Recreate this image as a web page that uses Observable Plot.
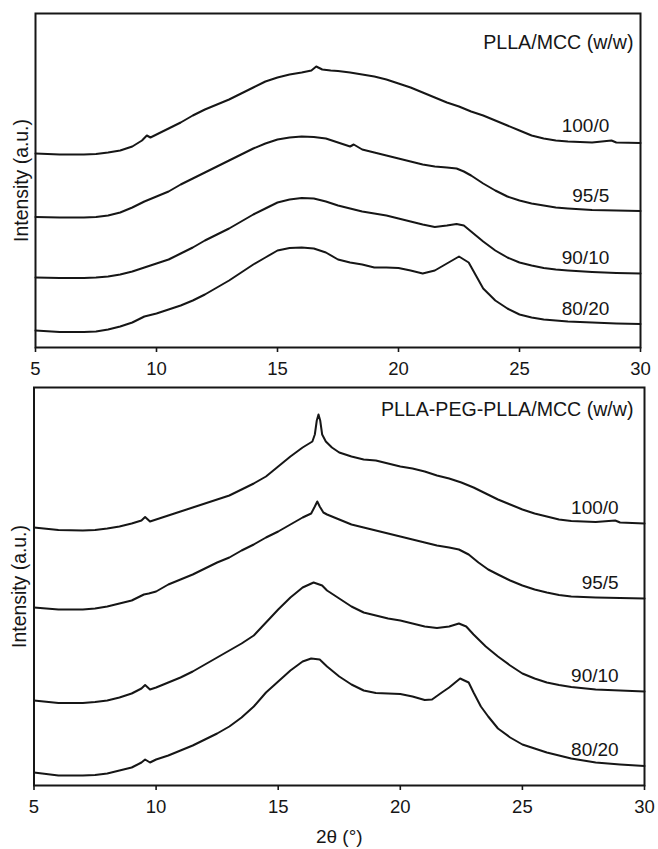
<!DOCTYPE html>
<html>
<head>
<meta charset="utf-8">
<script src="https://cdn.jsdelivr.net/npm/d3@7"></script>
<script src="https://cdn.jsdelivr.net/npm/@observablehq/plot@0.6"></script>
<style>
  html, body { margin: 0; padding: 0; background: #fff; }
  #chart svg { display: block; }
</style>
</head>
<body>
<div id="chart"></div>
<script>
// XRD patterns, 2θ (°) vs. intensity (a.u., curves vertically offset)
const xTicks = [5, 10, 15, 20, 25, 30];
const sampleLabels = ["100/0", "95/5", "90/10", "80/20"];
const topTitle = "PLLA/MCC (w/w)";
const bottomTitle = "PLLA-PEG-PLLA/MCC (w/w)";
const yTitle = "Intensity (a.u.)";
const xTitle = "2θ (°)";

// PLLA/MCC blends
const pllaMcc100 = [[5,194],[6,193],[7,193],[7.5,193.5],[8,195],[8.5,197],[9,201],[9.4,207],[9.6,212],[9.75,210],[10,213],[10.5,219],[11,225],[11.5,232],[12,238],[12.5,243],[13,248],[13.5,254],[14,260],[14.5,266],[15,270],[15.5,273],[16,275],[16.4,277],[16.6,281],[16.85,278],[17.2,277],[17.5,276.5],[18,275],[18.5,273],[19,271],[19.5,268],[20,264],[20.5,260],[21,255],[21.5,250],[22,245],[22.5,241],[23,236],[23.5,232],[24,227],[24.5,222],[25,217],[25.5,212],[26,209],[26.5,207],[27,206],[28,205],[28.8,207],[29,205],[30,204.5]];
const pllaMcc95 = [[5,130.5],[6,130],[7,130],[7.5,130.5],[8,132],[8.5,135],[9,140],[9.5,146],[10,151],[10.5,156],[11,163],[11.5,169],[12,175],[12.5,181],[13,187],[13.5,193],[14,199],[14.5,204],[15,208],[15.5,210],[16,211],[16.5,210.5],[17,209],[17.5,205],[18,201],[18.15,203],[18.5,198],[19,195],[19.5,192],[20,189],[20.5,186],[21,183],[21.5,181],[22,180],[22.4,179],[22.7,176],[23,172],[23.5,164],[24,157],[24.5,151],[25,147],[25.5,144],[26,142],[26.5,140],[27,139],[28,137.5],[29,137],[30,136.5]];
const pllaMcc90 = [[5,70],[6,69.5],[7,69.5],[7.5,70],[8,71],[8.5,73],[9,76],[9.5,80],[10,84],[10.5,88],[11,94],[11.5,100],[12,107],[12.5,113],[13,119],[13.5,126],[14,133],[14.5,139],[15,145],[15.5,148],[16,149.5],[16.5,149],[17,146],[17.5,142],[18,139],[18.5,136],[19,134],[19.5,132],[20,129],[20.5,126],[21,123],[21.5,120.5],[22,122],[22.4,123.5],[22.7,122],[23,116],[23.5,106],[24,97],[24.5,90],[25,85],[25.5,82],[26,79.5],[26.5,78],[27,77],[28,75.5],[29,74.5],[30,74]];
const pllaMcc80 = [[5,17],[6,15.5],[7,15.5],[7.5,16],[8,18],[8.5,21],[9,25],[9.5,31],[10,34],[10.5,38],[11,42],[11.5,47],[12,53],[12.5,60],[13,67],[13.5,75],[14,83],[14.5,90],[15,97],[15.5,99.5],[16,100],[16.5,99],[17,95],[17.5,88],[18,85],[18.5,83],[19,80],[19.5,80],[20,79.5],[20.5,77],[21,74],[21.5,77],[22,84],[22.5,91],[22.9,85],[23.2,72],[23.5,59],[24,47],[24.5,39],[25,33],[25.5,30],[26,28],[27,26],[28,25],[29,24],[30,23.5]];

// PLLA-PEG-PLLA/MCC blends
const pegMcc100 = [[5,258],[6,255.5],[7,255],[7.5,255.5],[8,257],[8.5,259],[9,262],[9.4,265],[9.55,268.5],[9.75,264],[10,266],[10.5,270],[11,274],[11.5,278],[12,282],[12.5,286],[13,290],[13.5,296],[14,302],[14.5,309],[15,319],[15.5,329],[16,338],[16.4,344],[16.5,351],[16.58,365],[16.65,371],[16.72,365],[16.8,351],[16.95,344],[17.2,338],[17.5,333],[18,329],[18.5,326],[19,325],[19.5,322],[20,319],[20.5,317],[21,314],[21.5,310],[22,307],[22.5,303],[23,298],[23.5,292],[24,286],[24.5,281],[25,276],[25.5,272],[26,269],[26.5,266],[27,264.5],[28,263.5],[28.8,265],[29,263],[30,262]];
const pegMcc95 = [[5,178],[6,176],[7,176],[7.5,177],[8,179],[8.5,182],[9,185],[9.5,191],[9.7,192],[10,194],[10.5,201],[11,206],[11.5,211],[12,217],[12.5,223],[13,228],[13.5,235],[14,241],[14.5,248],[15,254],[15.5,261],[16,268],[16.35,272],[16.5,279],[16.6,284],[16.7,279],[16.85,273],[17,271],[17.5,266],[18,261],[18.5,258],[19,255],[19.5,252],[20,249],[20.5,246],[21,243],[21.5,240],[22,238],[22.4,236],[22.8,231],[23.2,223],[23.6,216],[24,211],[24.5,205],[25,200],[25.5,196],[26,193],[26.5,190.5],[27,189],[28,188],[29,187.5],[30,187]];
const pegMcc90 = [[5,85],[6,82.5],[7,82.5],[7.5,83.5],[8,85],[8.5,88],[9,92],[9.4,97],[9.55,100.5],[9.75,96],[10,98],[10.5,103],[11,108],[11.5,114],[12,121],[12.5,128],[13,135],[13.5,142],[14,150],[14.5,163],[15,176],[15.5,188],[16,198],[16.45,203],[16.8,200],[17,195],[17.5,187],[18,179],[18.5,173],[19,170],[19.5,167],[20,165],[20.5,162],[21,159],[21.5,157.5],[22,159],[22.4,162],[22.7,159],[23,151],[23.5,139],[24,129],[24.5,120],[25,112],[25.5,107],[26,103],[26.5,100.5],[27,98.5],[28,96],[29,95],[30,94]];
const pegMcc80 = [[5,13],[6,10],[7,10],[7.5,10.5],[8,12],[8.5,15],[9,18],[9.4,23],[9.55,26],[9.75,23],[10,26],[10.5,30],[11,35],[11.5,40],[12,46],[12.5,52],[13,59],[13.5,68],[14,79],[14.5,93],[15,104],[15.5,115],[16,124],[16.35,127],[16.7,126],[17,119],[17.5,109],[18,101],[18.5,95],[19,92.5],[19.5,92],[20,91.5],[20.5,89],[21,85.5],[21.3,86],[21.7,93],[22,98],[22.45,107],[22.8,103],[23,93],[23.3,79],[23.6,69],[24,57],[24.5,48],[25,41],[25.5,37],[26,33],[26.5,30],[27,27],[28,23],[29,21],[30,19.5]];

const ink = "#161616";
const font = "'Liberation Sans', Arial, Helvetica, sans-serif";

function rowsFor(series) {
  return series.flatMap((pts, i) =>
    pts.map(([theta, intensity]) => ({sample: sampleLabels[i], theta, intensity})));
}

// label sits just above each trace, right-aligned at a given 2θ
function labelRows(series, atTheta) {
  return series.map((pts, i) => {
    const p = pts.reduce((a, b) => Math.abs(b[0] - atTheta) < Math.abs(a[0] - atTheta) ? b : a);
    return {sample: sampleLabels[i], theta: atTheta, intensity: p[1]};
  });
}

function panel({series, title, yMax, height, margins, labelTheta, labelDy, titleDx, titleDy, withXTitle}) {
  const marks = [
    Plot.frame({stroke: ink, strokeWidth: 2}),
    Plot.axisX({ticks: xTicks, tickSize: 5, tickPadding: 9, label: null, fontSize: 18.5, stroke: ink, strokeWidth: 1.6}),
    Plot.line(rowsFor(series), {x: "theta", y: "intensity", z: "sample", stroke: ink, strokeWidth: 2, strokeLinejoin: "round"}),
    Plot.text(labelRows(series, labelTheta), {x: "theta", y: "intensity", text: "sample", textAnchor: "end", lineAnchor: "bottom", dy: labelDy, fontSize: 19, fill: ink}),
    Plot.text([title], {frameAnchor: "top-right", text: d => d, textAnchor: "end", lineAnchor: "bottom", dx: titleDx, dy: titleDy, fontSize: 19.6, fill: ink}),
    Plot.text([yTitle], {frameAnchor: "left", text: d => d, rotate: -90, textAnchor: "middle", lineAnchor: "middle", dx: -14, fontSize: 19.4, fill: ink})
  ];
  if (withXTitle) {
    marks.push(Plot.text([xTitle], {frameAnchor: "bottom", text: d => d, textAnchor: "middle", lineAnchor: "bottom", dy: 57, fontSize: 19, fill: ink}));
  }
  return Plot.plot({
    width: 658,
    height,
    ...margins,
    x: {domain: [5, 30]},
    y: {domain: [0, yMax], axis: null},
    style: {fontFamily: font, color: ink, background: "#fff", overflow: "visible"},
    marks
  });
}

const chart = document.getElementById("chart");
chart.append(panel({
  series: [pllaMcc100, pllaMcc95, pllaMcc90, pllaMcc80],
  title: topTitle, yMax: 334, height: 380,
  margins: {marginTop: 13, marginBottom: 33, marginLeft: 35, marginRight: 18},
  labelTheta: 28.71, labelDy: -9, titleDx: -7, titleDy: 35, withXTitle: false
}));
chart.append(panel({
  series: [pegMcc100, pegMcc95, pegMcc90, pegMcc80],
  title: bottomTitle, yMax: 398, height: 469,
  margins: {marginTop: 7, marginBottom: 64, marginLeft: 33.5, marginRight: 14},
  labelTheta: 28.94, labelDy: -9, titleDx: -11, titleDy: 28, withXTitle: true
}));
</script>
</body>
</html>
